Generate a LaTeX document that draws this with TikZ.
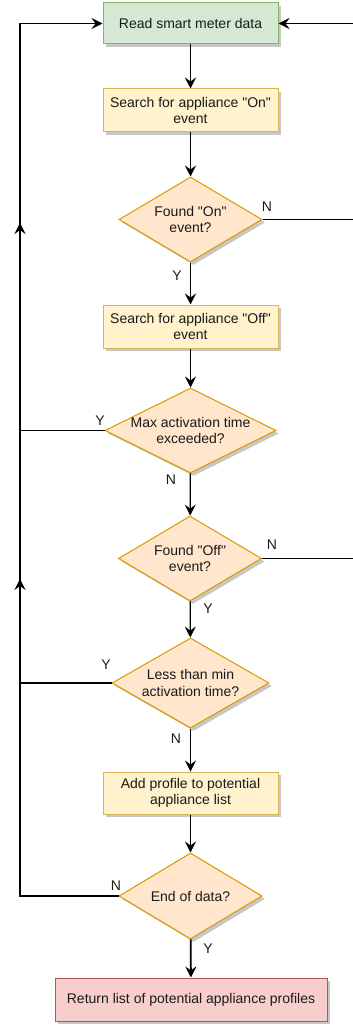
\documentclass[tikz,border=0pt]{standalone}
\usepackage{fontspec}
\setmainfont{Liberation Sans}
\usetikzlibrary{shapes.geometric,arrows.meta,shadows}
\definecolor{gfill}{HTML}{D5E8D4}\definecolor{gline}{HTML}{82B366}
\definecolor{yfill}{HTML}{FFF2CC}\definecolor{yline}{HTML}{D6B656}
\definecolor{ofill}{HTML}{FFE6CC}\definecolor{oline}{HTML}{D79B00}
\definecolor{rfill}{HTML}{F8CECC}\definecolor{rline}{HTML}{B85450}
\definecolor{txt}{HTML}{1A1A1A}
\newcommand{\qd}{\textquotedbl}
\tikzset{
  every node/.style={font=\fontsize{14}{16.3}\selectfont, text=txt},
  shad/.style={drop shadow={shadow xshift=3pt, shadow yshift=-3pt, fill=black!22, opacity=1}},
  procbox/.style={rectangle, draw=yline, fill=yfill, line width=1pt, minimum width=175pt, minimum height=42pt, align=center, inner sep=2pt, shad},
  startbox/.style={procbox, draw=gline, fill=gfill},
  endbox/.style={procbox, draw=rline, fill=rfill, minimum width=272pt, minimum height=43pt},
  decision/.style={diamond, aspect=2, draw=oline, fill=ofill, line width=1pt, inner sep=-7pt, align=center, shad},
  flow/.style={line width=1.2pt, -{Stealth[length=11pt,width=11pt,inset=4pt]}},
  flowthick/.style={flow, line width=1.8pt},
  plain/.style={line width=1.2pt},
  lbl/.style={inner sep=0pt},
}
\begin{document}
\begin{tikzpicture}[x=1pt,y=-1pt]
\useasboundingbox (0,0) rectangle (353,1027);
\node[startbox, minimum height=41pt] (b1) at (190.5,23.5) {Read smart meter data};
\node[procbox, minimum height=43pt] (b2) at (190.5,110.5) {Search for appliance \qd On\qd\\event};
\node[decision, minimum width=143pt, minimum height=85pt] (d1) at (190.5,219.5) {Found \qd On\qd\\event?};
\node[procbox, minimum height=43pt] (b3) at (190.5,326.5) {Search for appliance \qd Off\qd\\event};
\node[decision, minimum width=171pt, minimum height=85pt] (d2) at (190.5,430.5) {Max activation time\\exceeded?};
\node[decision, minimum width=143pt, minimum height=85pt] (d3) at (190,558.5) {Found \qd Off\qd\\event?};
\node[decision, minimum width=157pt, minimum height=90pt] (d4) at (190.5,683) {Less than min\\activation time?};
\node[procbox] (b5) at (190.5,793) {Add profile to potential\\appliance list};
\node[decision, minimum width=143pt, minimum height=86pt] (d5) at (190.5,896) {End of data?};
\node[endbox] (b6) at (191,999.5) {Return list of potential appliance profiles};

\coordinate (ltop) at (20,23.5);
\coordinate (rtop) at (354,23.5);
\coordinate (la) at (20,579);
\coordinate (lb) at (20,223);

\draw[flowthick] (b1) -- (b2);
\draw[flow] (b2) -- (d1);
\draw[flowthick] (d1) -- (b3);
\draw[flow] (b3) -- (d2);
\draw[flow] (d2) -- (d3);
\draw[flow] (d3) -- (d4);
\draw[flow] (d4) -- (b5);
\draw[flowthick] (b5) -- (d5);
\draw[flowthick] (d5) -- (b6);

\draw[flow] (d1.east) -| (rtop) -- (b1.east);
\draw[plain] (d3.east) -| (rtop);
\draw[flow] (d5.west) -| (ltop) -- (b1.west);
\draw[flow] (d4.west) -| (la);
\draw[flow] (d2.west) -| (lb);

\node[lbl] (n1) at (267,207) {N};
\node[lbl] (y1) at (177,276) {Y};
\node[lbl] (y2) at (100,421) {Y};
\node[lbl] (n2) at (171,480) {N};
\node[lbl] (n3) at (272,545) {N};
\node[lbl] (y3) at (208,609) {Y};
\node[lbl] (y4) at (106,665) {Y};
\node[lbl] (n4) at (176,739) {N};
\node[lbl] (n5) at (116,886) {N};
\node[lbl] (y5) at (208,949) {Y};
\end{tikzpicture}
\end{document}
